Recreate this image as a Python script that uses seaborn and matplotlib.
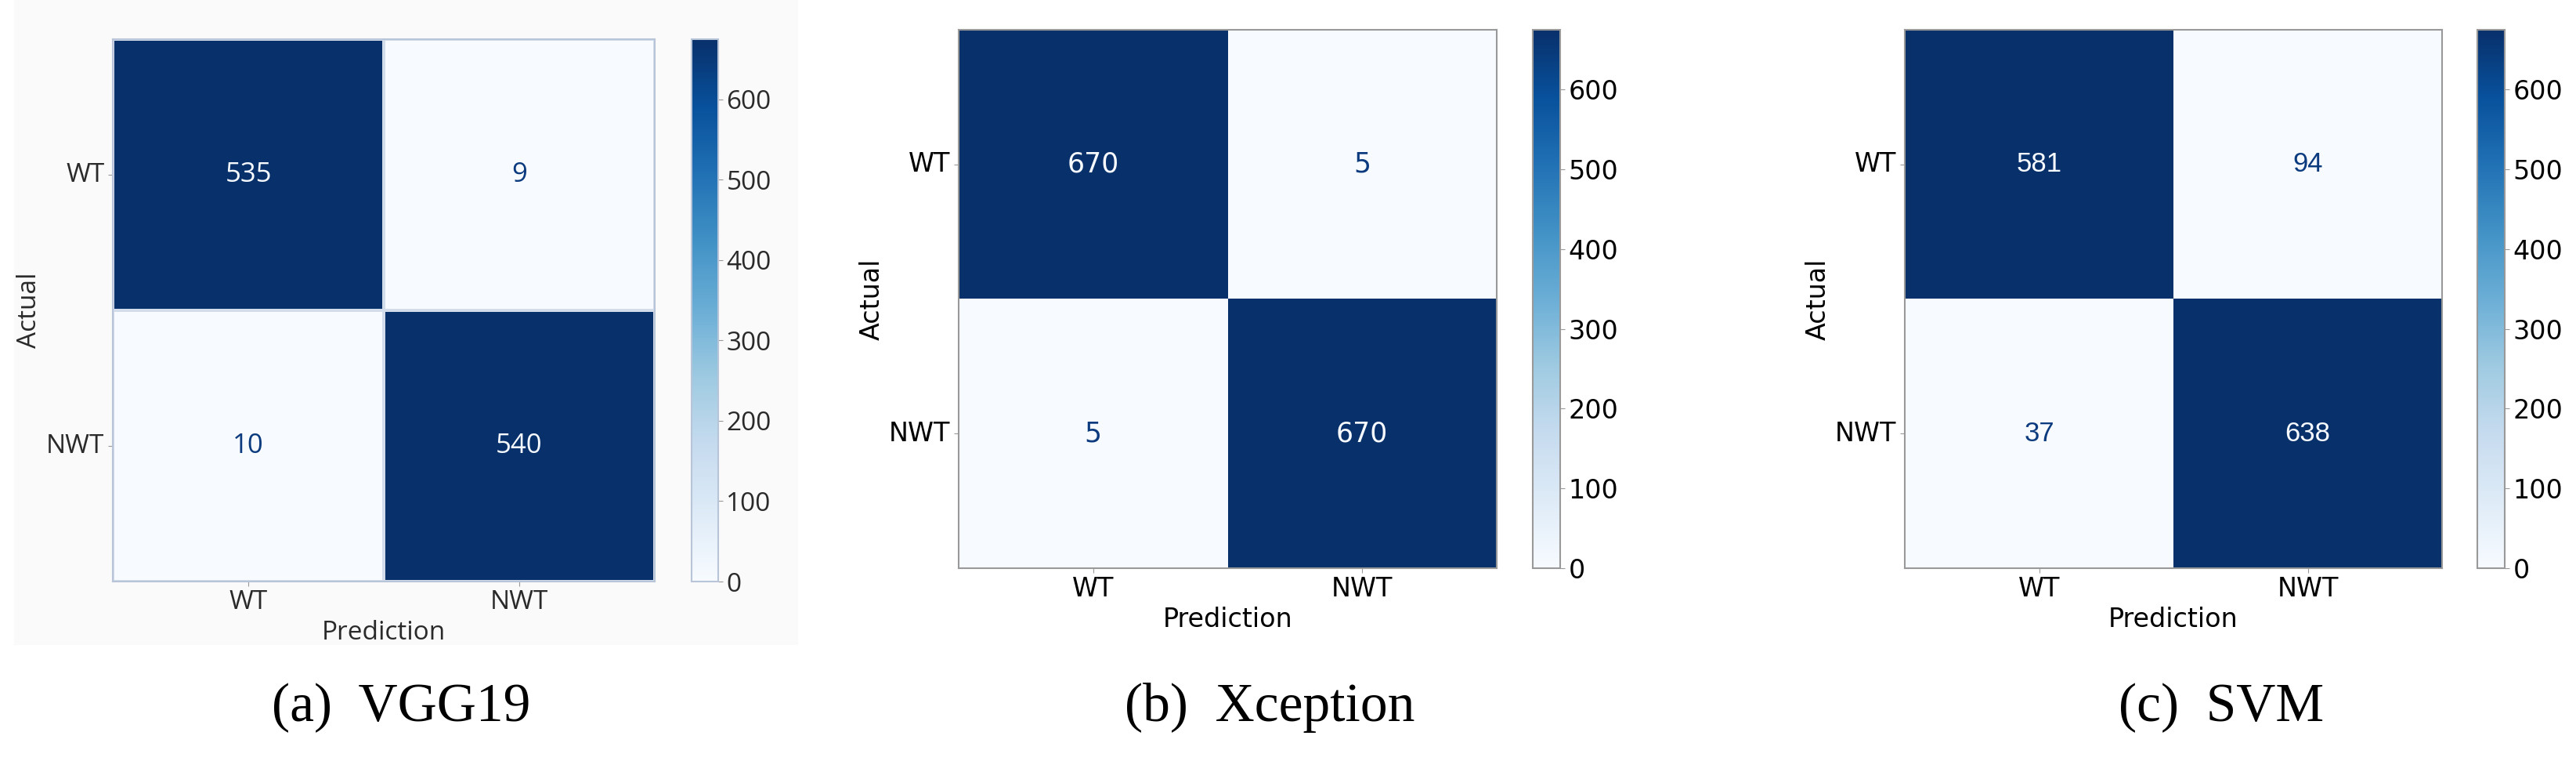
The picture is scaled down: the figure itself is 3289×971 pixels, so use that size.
import numpy as np
import matplotlib
matplotlib.use('Agg')
from matplotlib import pyplot as plt
from matplotlib.colors import ListedColormap, Normalize
from matplotlib.cm import ScalarMappable
from matplotlib.patches import Rectangle
import seaborn as sns

classes = ['WT', 'NWT']
captions = ['(a)  VGG19', '(b)  Xception', '(c)  SVM']
vgg19 = [[535, 9], [10, 540]]
xception = [[670, 5], [5, 670]]
svm = [[581, 94], [37, 638]]
cbar_ticks = [0, 100, 200, 300, 400, 500, 600]

W, H = 3289, 971
VMAX = 675
FS = 24


def px(x0, y0, x1, y1):
    return [x0 / W, 1 - y1 / H, (x1 - x0) / W, (y1 - y0) / H]


blues = plt.get_cmap('Blues')
# cells in the source figures are either near-white or full navy
grid = np.linspace(0, 1, 256) * VMAX
cell_cmap = ListedColormap(blues(np.clip((grid - 100) / (530 - 100), 0, 1)))

fig = plt.figure(figsize=(W / 100, H / 100), dpi=100)
fig.patches.append(Rectangle((18 / W, 1 - 822 / H), 1000 / W, 822 / H,
                             transform=fig.transFigure, color='#fafafb', zorder=-1))

panels = [
    (vgg19, px(144, 50, 836, 742), px(883, 50, 917, 742), 512, 'Open Sans', '#2a2a2a'),
    (xception, px(1224, 38, 1911, 725), px(1957, 38, 1992, 725), 1621, 'DejaVu Sans', 'black'),
    (svm, px(2432, 38, 3118, 725), px(3163, 38, 3198, 725), 2836, 'DejaVu Sans', 'black'),
]

for i, (conf, ax_pos, cax_pos, cap_x, family, tcolor) in enumerate(panels):
    ax = fig.add_axes(ax_pos)
    cax = fig.add_axes(cax_pos)
    edge = '#b8c4d8' if i == 0 else '#999999'
    annot_family = 'Liberation Sans' if i == 2 else family
    sns.heatmap(
        np.array(conf),
        ax=ax,
        cbar=False,
        cmap=cell_cmap,
        vmin=0,
        vmax=VMAX,
        annot=True,
        fmt='d',
        xticklabels=classes,
        yticklabels=classes,
        linewidths=1.5 if i == 0 else 0,
        linecolor='#d3dcea',
        annot_kws={'size': FS + 1, 'family': annot_family},
    )
    for t in ax.texts:
        t.set_color(blues(0.0) if int(t.get_text()) > VMAX / 2 else '#0b3a7e')
    ax.set_xlabel('Prediction', fontsize=FS, family=family, color=tcolor)
    ax.set_ylabel('Actual', fontsize=FS, family=family, color=tcolor)
    ax.tick_params(labelsize=FS, length=4, color='#999999', labelcolor=tcolor)
    for lab in ax.get_xticklabels() + ax.get_yticklabels():
        lab.set_family(family)
    plt.setp(ax.get_yticklabels(), rotation=0)
    for s in ax.spines.values():
        s.set_visible(True)
        s.set_color(edge)
        s.set_linewidth(1.5)

    cb = fig.colorbar(ScalarMappable(norm=Normalize(0, VMAX), cmap=blues), cax=cax)
    cb.set_ticks(cbar_ticks)
    cb.outline.set_edgecolor(edge)
    cb.outline.set_linewidth(1.5)
    cax.tick_params(labelsize=FS, length=4, color='#999999', labelcolor=tcolor)
    for lab in cax.get_yticklabels():
        lab.set_family(family)

    fig.text(cap_x / W, 1 - 903 / H, captions[i], ha='center', va='center',
             fontsize=50, family='Liberation Serif')

plt.savefig('out.png', dpi=100)
plt.close()
